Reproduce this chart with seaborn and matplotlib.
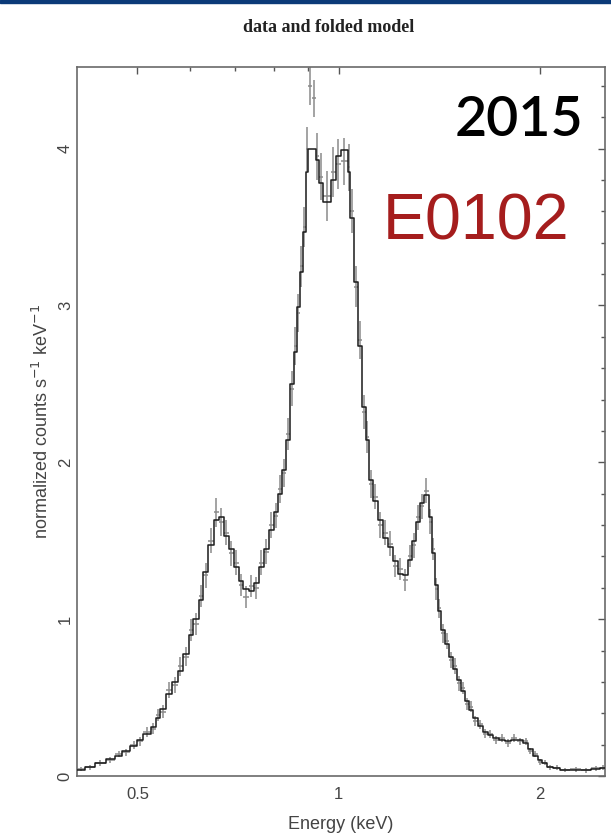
import numpy as np
import pandas as pd
import matplotlib
matplotlib.use("Agg")
import matplotlib.pyplot as plt
from matplotlib.ticker import FixedLocator, NullFormatter, FixedFormatter
from matplotlib.patches import Rectangle
import seaborn as sns

# ---- data (energy bin edges in keV, folded model, data, 1-sigma errors) ----
bin_edges = [0.406, 0.418, 0.432, 0.448, 0.463, 0.474, 0.488, 0.500, 0.510, 0.523,
             0.532, 0.541, 0.552, 0.564, 0.574, 0.584, 0.596, 0.606, 0.617, 0.627,
             0.638, 0.650, 0.661, 0.673, 0.685, 0.696, 0.708, 0.720, 0.733, 0.746,
             0.759, 0.772, 0.785, 0.799, 0.810, 0.822, 0.833, 0.845, 0.856, 0.865,
             0.874, 0.883, 0.892, 0.898, 0.911, 0.924, 0.933, 0.946, 0.973, 0.990,
             1.007, 1.032, 1.039, 1.053, 1.067, 1.083, 1.098, 1.109, 1.124, 1.143,
             1.164, 1.184, 1.204, 1.225, 1.247, 1.268, 1.285, 1.303, 1.321, 1.340,
             1.363, 1.378, 1.392, 1.406, 1.421, 1.441, 1.461, 1.481, 1.502, 1.522,
             1.543, 1.565, 1.587, 1.614, 1.642, 1.671, 1.700, 1.735, 1.772, 1.809,
             1.847, 1.885, 1.918, 1.951, 1.985, 2.014, 2.049, 2.092, 2.14, 2.22,
             2.30, 2.38, 2.46, 2.50]

model_counts = [0.04, 0.06, 0.08, 0.11, 0.13, 0.16, 0.19, 0.23, 0.27, 0.31,
                0.37, 0.43, 0.52, 0.60, 0.67, 0.78, 0.90, 1.00, 1.12, 1.30,
                1.47, 1.63, 1.65, 1.53, 1.45, 1.33, 1.24, 1.19, 1.18, 1.23,
                1.33, 1.45, 1.57, 1.68, 1.80, 1.95, 2.14, 2.50, 2.70, 2.99,
                3.21, 3.47, 3.85, 4.00, 4.00, 3.93, 3.78, 3.66, 3.80, 3.95,
                3.99, 3.85, 3.56, 3.15, 2.74, 2.35, 2.14, 1.89, 1.75, 1.63,
                1.52, 1.46, 1.37, 1.29, 1.28, 1.38, 1.50, 1.62, 1.74, 1.79,
                1.65, 1.42, 1.22, 1.05, 0.93, 0.84, 0.76, 0.68, 0.61, 0.54,
                0.48, 0.42, 0.37, 0.32, 0.28, 0.26, 0.24, 0.23, 0.22, 0.23,
                0.23, 0.21, 0.17, 0.13, 0.10, 0.08, 0.06, 0.05, 0.04, 0.04,
                0.04, 0.045, 0.05]

data_counts = [0.045, 0.055, 0.085, 0.10, 0.14, 0.15, 0.20, 0.22, 0.28, 0.30,
               0.39, 0.41, 0.55, 0.58, 0.70, 0.76, 0.93, 0.97, 1.15, 1.28,
               1.50, 1.68, 1.62, 1.55, 1.42, 1.36, 1.22, 1.14, 1.21, 1.20,
               1.36, 1.43, 1.60, 1.66, 1.83, 1.93, 2.18, 2.47, 2.74, 2.95,
               3.25, 3.50, 4.00, 4.40, 4.32, 3.95, 3.82, 3.70, 3.85, 3.90,
               3.92, 3.88, 3.60, 3.12, 2.78, 2.32, 2.16, 1.86, 1.78, 1.60,
               1.55, 1.48, 1.34, 1.32, 1.25, 1.40, 1.47, 1.65, 1.72, 1.82,
               1.62, 1.45, 1.19, 1.07, 0.91, 0.86, 0.74, 0.70, 0.59, 0.56,
               0.46, 0.44, 0.35, 0.33, 0.27, 0.27, 0.23, 0.24, 0.21, 0.24,
               0.22, 0.22, 0.16, 0.14, 0.09, 0.085, 0.055, 0.052, 0.038, 0.042,
               0.037, 0.048, 0.052]

data_errors = [0.015, 0.015, 0.02, 0.02, 0.02, 0.025, 0.025, 0.03, 0.03, 0.035,
               0.04, 0.04, 0.05, 0.05, 0.06, 0.06, 0.07, 0.07, 0.07, 0.08,
               0.08, 0.09, 0.09, 0.08, 0.08, 0.08, 0.07, 0.07, 0.07, 0.07,
               0.08, 0.08, 0.08, 0.08, 0.09, 0.09, 0.10, 0.11, 0.12, 0.12,
               0.13, 0.13, 0.14, 0.12, 0.12, 0.15, 0.15, 0.16, 0.16, 0.16,
               0.15, 0.15, 0.14, 0.13, 0.12, 0.11, 0.10, 0.09, 0.08, 0.08,
               0.08, 0.08, 0.07, 0.07, 0.07, 0.07, 0.08, 0.08, 0.08, 0.08,
               0.08, 0.07, 0.07, 0.06, 0.06, 0.05, 0.05, 0.05, 0.045, 0.04,
               0.04, 0.035, 0.03, 0.03, 0.03, 0.025, 0.025, 0.025, 0.025, 0.025,
               0.025, 0.025, 0.02, 0.02, 0.02, 0.015, 0.015, 0.015, 0.015, 0.015,
               0.015, 0.015, 0.015]

x_ticks = [0.5, 1, 2]
x_tick_labels = ["0.5", "1", "2"]
x_minor_ticks = [0.6, 0.7, 0.8, 0.9]
y_ticks = [0, 1, 2, 3, 4]

assert len(bin_edges) == len(model_counts) + 1
assert len(model_counts) == len(data_counts) == len(data_errors)

# ---- figure ----
sns.set_style("white")
plt.rcParams["font.family"] = ["Liberation Sans", "DejaVu Sans"]

fig = plt.figure(figsize=(6.11, 8.38), dpi=100)
ax = fig.add_axes([77/611, 62/838, (605-77)/611, (776-67)/838])

edges = np.array(bin_edges)
lo, hi = edges[:-1], edges[1:]
centers = np.sqrt(lo * hi)

# data points with error bars (grey crosses)
ax.errorbar(centers, data_counts, yerr=data_errors,
            xerr=[centers - lo, hi - centers], fmt="none",
            ecolor="#8a8a8a", elinewidth=1.1, capsize=0, zorder=2)

# folded model as a step histogram
step_df = pd.DataFrame({"energy": edges,
                        "counts": list(model_counts) + [model_counts[-1]]})
sns.lineplot(data=step_df, x="energy", y="counts", drawstyle="steps-post",
             color="#1a1a1a", linewidth=1.1, estimator=None, sort=False,
             ax=ax, zorder=3)

ax.set_xscale("log")
ax.set_xlim(0.406, 2.5)
ax.set_ylim(0, 4.52)

ax.xaxis.set_major_locator(FixedLocator(x_ticks))
ax.xaxis.set_major_formatter(FixedFormatter(x_tick_labels))
ax.xaxis.set_minor_locator(FixedLocator(x_minor_ticks))
ax.xaxis.set_minor_formatter(NullFormatter())
ax.yaxis.set_major_locator(FixedLocator(y_ticks))
ax.yaxis.set_minor_locator(FixedLocator([v/5 for v in range(0, 23)]))

ax.tick_params(which="both", direction="in", top=True, right=True,
               colors="#555555", labelcolor="#444444", labelsize=12)
ax.tick_params(which="major", length=5, width=1)
ax.tick_params(which="minor", length=3, width=1)
ax.tick_params(axis="x", pad=8)
ax.tick_params(axis="y", pad=3)
for lab in ax.get_yticklabels():
    lab.set_rotation(90)
    lab.set_va("center")

for sp in ax.spines.values():
    sp.set_color("#6a6a6a")
    sp.set_linewidth(1.2)

ax.set_xlabel("Energy (keV)", fontsize=13, color="#444444", labelpad=10)
ax.set_ylabel("normalized counts s$^{-1}$ keV$^{-1}$", fontsize=13,
              color="#444444", labelpad=4)

fig.text(329/611, 1 - 27/838, "data and folded model", ha="center", va="center",
         fontsize=13, fontweight="bold", color="#222222",
         family=["Liberation Serif", "DejaVu Serif"])

fig.text(455/611, 1 - 120/838, "2015", ha="left", va="center", fontsize=40,
         fontweight="semibold", color="black", family=["Lato", "DejaVu Sans"])
fig.text(383/611, 1 - 222/838, "E0102", ha="left", va="center", fontsize=46.5,
         color="#a51d1d", family=["Liberation Sans", "DejaVu Sans"])

fig.patches.append(Rectangle((0, 1 - 3/838), 1, 3/838, transform=fig.transFigure,
                             color="#0b3a78", zorder=10))

fig.savefig("out.png", dpi=100)
